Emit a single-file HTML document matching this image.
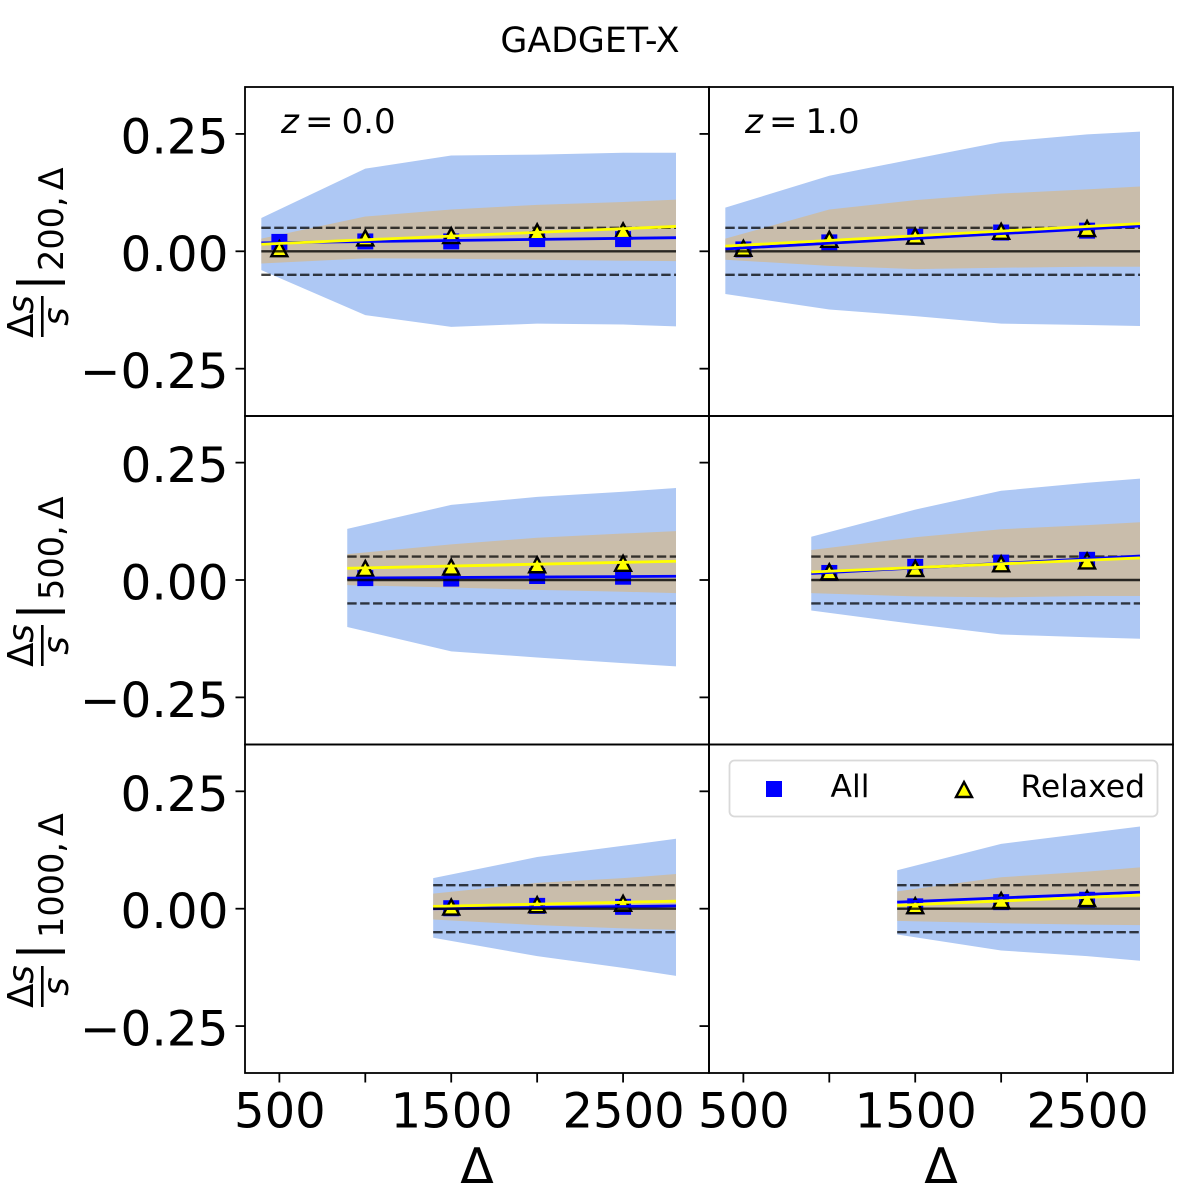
<!DOCTYPE html>
<html lang="en">
<head>
<meta charset="utf-8">
<title>GADGET-X</title>
<style>
html,body{margin:0;padding:0;background:#fff}
svg{display:block}
text{font-family:"DejaVu Sans","Liberation Sans",sans-serif;fill:#000}
</style>
</head>
<body>
<svg id="chart" xmlns="http://www.w3.org/2000/svg" width="1200" height="1197" viewBox="0 0 1200 1197">
<rect x="0" y="0" width="1200" height="1197" fill="#fff"/>
<text x="590" y="52" font-size="34.8" text-anchor="middle">GADGET-X</text>
<g id="panels"></g>
<g id="frames" fill="none" stroke="#000" stroke-width="1.8">
<rect x="245" y="87" width="464" height="329"/>
<rect x="709" y="87" width="464" height="329"/>
<rect x="245" y="416" width="464" height="328.5"/>
<rect x="709" y="416" width="464" height="328.5"/>
<rect x="245" y="744.5" width="464" height="328.5"/>
<rect x="709" y="744.5" width="464" height="328.5"/>
</g>
<g id="axes"></g>

<g font-size="34">
<text x="281" y="133" font-style="italic">z</text>
<text x="305" y="133">=</text>
<text x="341.5" y="133">0.0</text>
</g>
<g font-size="34">
<text x="745" y="133" font-style="italic">z</text>
<text x="769" y="133">=</text>
<text x="805.5" y="133">1.0</text>
</g>

<g>
<text transform="translate(33,316.5) rotate(-90)" font-size="35.5" text-anchor="middle">Δ<tspan font-style="italic">s</tspan></text>
<rect x="41" y="296" width="2.6" height="41"/>
<text transform="translate(68,316.5) rotate(-90)" font-size="35.5" font-style="italic" text-anchor="middle">s</text>
<rect x="16" y="280.5" width="49" height="4"/>
<text transform="translate(63,271) rotate(-90)" font-size="33.5">200,<tspan dx="6">Δ</tspan></text>
</g>
<g>
<text transform="translate(33,645.5) rotate(-90)" font-size="35.5" text-anchor="middle">Δ<tspan font-style="italic">s</tspan></text>
<rect x="41" y="625" width="2.6" height="41"/>
<text transform="translate(68,645.5) rotate(-90)" font-size="35.5" font-style="italic" text-anchor="middle">s</text>
<rect x="16" y="609.5" width="49" height="4"/>
<text transform="translate(63,600) rotate(-90)" font-size="33.5">500,<tspan dx="6">Δ</tspan></text>
</g>
<g>
<text transform="translate(33,986.5) rotate(-90)" font-size="35.5" text-anchor="middle">Δ<tspan font-style="italic">s</tspan></text>
<rect x="41" y="966" width="2.6" height="41"/>
<text transform="translate(68,986.5) rotate(-90)" font-size="35.5" font-style="italic" text-anchor="middle">s</text>
<rect x="16" y="949.5" width="49" height="4"/>
<text transform="translate(63,938) rotate(-90)" font-size="33.5">1000,<tspan dx="6">Δ</tspan></text>
</g>

<text x="477" y="1183" font-size="49" text-anchor="middle">Δ</text>
<text x="941" y="1183" font-size="49" text-anchor="middle">Δ</text>

<g>
<rect x="729.5" y="760.5" width="428" height="56" rx="5" ry="5" fill="#fff" fill-opacity="0.8" stroke="#d9d9d9" stroke-width="1.8"/>
<rect x="766" y="781" width="16" height="16" fill="#0000ff"/>
<text x="830.5" y="797" font-size="31.4">All</text>
<path d="M964 782 L972 797 L956 797 Z" fill="#ffff00" stroke="#000" stroke-width="2.4"/>
<text x="1020.5" y="797" font-size="31.4">Relaxed</text>
</g>
</svg>

<script>
// Axis tick data
const xTickValues = [500, 1000, 1500, 2000, 2500];
const xTickLabels = ["500", "", "1500", "", "2500"];
const yTickValues = [0.25, 0, -0.25];
const yTickLabels = ["0.25", "0.00", "\u22120.25"];
const toleranceValue = 0.05;

// Band sample positions (Delta) per reference overdensity
const bandX200 = [395, 1000, 1500, 2000, 2500, 2808];
const bandX500 = [895, 1500, 2000, 2500, 2808];
const bandX1000 = [1395, 2000, 2500, 2808];
const markerX200 = [500, 1000, 1500, 2000, 2500];
const markerX500 = [1000, 1500, 2000, 2500];
const markerX1000 = [1500, 2000, 2500];

// Delta_ref = 200, z = 0
const r200z0AllUpper = [0.071, 0.176, 0.204, 0.206, 0.210, 0.210];
const r200z0AllLower = [-0.040, -0.136, -0.161, -0.154, -0.156, -0.160];
const r200z0RelUpper = [0.027, 0.074, 0.089, 0.099, 0.105, 0.110];
const r200z0RelLower = [-0.026, -0.015, -0.016, -0.018, -0.020, -0.021];
const r200z0AllLine = [0.018, 0.029];
const r200z0RelLine = [0.015, 0.053];
const r200z0AllPts = [0.020, 0.021, 0.021, 0.026, 0.026];
const r200z0RelPts = [0.007, 0.030, 0.035, 0.043, 0.045];

// Delta_ref = 200, z = 1
const r200z1AllUpper = [0.093, 0.161, 0.197, 0.233, 0.249, 0.255];
const r200z1AllLower = [-0.091, -0.124, -0.138, -0.154, -0.157, -0.159];
const r200z1RelUpper = [0.027, 0.089, 0.109, 0.123, 0.132, 0.138];
const r200z1RelLower = [-0.018, -0.031, -0.038, -0.035, -0.033, -0.033];
const r200z1AllLine = [0.005, 0.054];
const r200z1RelLine = [0.011, 0.059];
const r200z1AllPts = [0.004, 0.019, 0.031, 0.040, 0.044];
const r200z1RelPts = [0.008, 0.027, 0.034, 0.044, 0.050];

// Delta_ref = 500, z = 0
const r500z0AllUpper = [0.109, 0.160, 0.177, 0.188, 0.196];
const r500z0AllLower = [-0.100, -0.152, -0.165, -0.177, -0.184];
const r500z0RelUpper = [0.055, 0.076, 0.090, 0.099, 0.104];
const r500z0RelLower = [-0.011, -0.016, -0.021, -0.025, -0.028];
const r500z0AllLine = [0.004, 0.008];
const r500z0RelLine = [0.025, 0.040];
const r500z0AllPts = [0.004, 0.003, 0.0085, 0.007];
const r500z0RelPts = [0.026, 0.029, 0.034, 0.037];

// Delta_ref = 500, z = 1
const r500z1AllUpper = [0.092, 0.150, 0.190, 0.207, 0.216];
const r500z1AllLower = [-0.065, -0.094, -0.116, -0.122, -0.125];
const r500z1RelUpper = [0.064, 0.091, 0.108, 0.117, 0.123];
const r500z1RelLower = [-0.028, -0.035, -0.037, -0.034, -0.034];
const r500z1AllLine = [0.014, 0.051];
const r500z1RelLine = [0.017, 0.047];
const r500z1AllPts = [0.015, 0.028, 0.037, 0.043];
const r500z1RelPts = [0.019, 0.026, 0.036, 0.042];

// Delta_ref = 1000, z = 0
const r1000z0AllUpper = [0.065, 0.110, 0.134, 0.149];
const r1000z0AllLower = [-0.062, -0.101, -0.126, -0.143];
const r1000z0RelUpper = [0.032, 0.055, 0.065, 0.074];
const r1000z0RelLower = [-0.023, -0.035, -0.042, -0.045];
const r1000z0AllLine = [0.000, 0.006];
const r1000z0RelLine = [0.005, 0.016];
const r1000z0AllPts = [0.001, 0.006, 0.004];
const r1000z0RelPts = [0.005, 0.010, 0.013];

// Delta_ref = 1000, z = 1
const r1000z1AllUpper = [0.082, 0.138, 0.161, 0.175];
const r1000z1AllLower = [-0.055, -0.089, -0.101, -0.111];
const r1000z1RelUpper = [0.037, 0.067, 0.079, 0.088];
const r1000z1RelLower = [-0.026, -0.031, -0.034, -0.035];
const r1000z1AllLine = [0.014, 0.035];
const r1000z1RelLine = [0.007, 0.029];
const r1000z1AllPts = [0.005, 0.014, 0.019];
const r1000z1RelPts = [0.008, 0.019, 0.023];

const panelList = [
  {id:"r200-z0", row:0, col:0, bx:bandX200, mx:markerX200, au:r200z0AllUpper, al:r200z0AllLower, ru:r200z0RelUpper, rl:r200z0RelLower, aLine:r200z0AllLine, rLine:r200z0RelLine, aPts:r200z0AllPts, rPts:r200z0RelPts},
  {id:"r200-z1", row:0, col:1, bx:bandX200, mx:markerX200, au:r200z1AllUpper, al:r200z1AllLower, ru:r200z1RelUpper, rl:r200z1RelLower, aLine:r200z1AllLine, rLine:r200z1RelLine, aPts:r200z1AllPts, rPts:r200z1RelPts},
  {id:"r500-z0", row:1, col:0, bx:bandX500, mx:markerX500, au:r500z0AllUpper, al:r500z0AllLower, ru:r500z0RelUpper, rl:r500z0RelLower, aLine:r500z0AllLine, rLine:r500z0RelLine, aPts:r500z0AllPts, rPts:r500z0RelPts},
  {id:"r500-z1", row:1, col:1, bx:bandX500, mx:markerX500, au:r500z1AllUpper, al:r500z1AllLower, ru:r500z1RelUpper, rl:r500z1RelLower, aLine:r500z1AllLine, rLine:r500z1RelLine, aPts:r500z1AllPts, rPts:r500z1RelPts},
  {id:"r1000-z0", row:2, col:0, bx:bandX1000, mx:markerX1000, au:r1000z0AllUpper, al:r1000z0AllLower, ru:r1000z0RelUpper, rl:r1000z0RelLower, aLine:r1000z0AllLine, rLine:r1000z0RelLine, aPts:r1000z0AllPts, rPts:r1000z0RelPts},
  {id:"r1000-z1", row:2, col:1, bx:bandX1000, mx:markerX1000, au:r1000z1AllUpper, al:r1000z1AllLower, ru:r1000z1RelUpper, rl:r1000z1RelLower, aLine:r1000z1AllLine, rLine:r1000z1RelLine, aPts:r1000z1AllPts, rPts:r1000z1RelPts}
];

const SVGNS = "http://www.w3.org/2000/svg";
function xScale(col, v) { return 245 + col * 464 + (v - 300) * (464 / 2700); }
function yScale(row, v) { return 251.3 + row * 328.7 - v * 469.5; }
function make(parent, tag, attrs) {
  const el = document.createElementNS(SVGNS, tag);
  for (const k in attrs) el.setAttribute(k, attrs[k]);
  parent.appendChild(el);
  return el;
}
function fmt(n) { return n.toFixed(2); }
function bandPath(p, upper, lower) {
  const top = p.bx.map((x, i) => fmt(xScale(p.col, x)) + " " + fmt(yScale(p.row, upper[i])));
  const bot = p.bx.map((x, i) => fmt(xScale(p.col, x)) + " " + fmt(yScale(p.row, lower[i]))).reverse();
  return "M" + top.concat(bot).join(" L") + " Z";
}

const panelsRoot = document.getElementById("panels");
const axesRoot = document.getElementById("axes");

panelList.forEach(function (p) {
  const g = make(panelsRoot, "g", {});
  
  

  const outer = make(g, "path", {d: bandPath(p, p.au, p.al), fill: "#aec8f4"});
  
  

  const inner = make(g, "path", {d: bandPath(p, p.ru, p.rl), fill: "#c9bdab"});
  
  

  const x0 = xScale(p.col, p.bx[0]);
  const x1 = xScale(p.col, p.bx[p.bx.length - 1]);

  [toleranceValue, -toleranceValue].forEach(function (v) {
    const dash = make(g, "line", {x1: x0, x2: x1, y1: yScale(p.row, v), y2: yScale(p.row, v), stroke: "#000", "stroke-opacity": 0.74, "stroke-width": 2.4, "stroke-dasharray": "9.4 3.5"});
    
    
  });

  p.mx.forEach(function (x, i) {
    const cx = xScale(p.col, x);
    const cy = yScale(p.row, p.aPts[i]);
    const sq = make(g, "rect", {x: cx - 8, y: cy - 8, width: 16, height: 16, fill: "#0000ff"});
    
    
  });

  p.mx.forEach(function (x, i) {
    const cx = xScale(p.col, x);
    const cy = yScale(p.row, p.rPts[i]) + 0.7;
    const d = "M" + fmt(cx) + " " + fmt(cy - 7.5) + " L" + fmt(cx + 8) + " " + fmt(cy + 7.5) + " L" + fmt(cx - 8) + " " + fmt(cy + 7.5) + " Z";
    const tri = make(g, "path", {d: d, fill: "#ffff00", stroke: "#000", "stroke-width": 2.4});
    
    
  });

  const allLine = make(g, "line", {x1: x0, x2: x1, y1: yScale(p.row, p.aLine[0]), y2: yScale(p.row, p.aLine[1]), stroke: "#0000ff", "stroke-width": 2.8});
  
  

  const relLine = make(g, "line", {x1: x0, x2: x1, y1: yScale(p.row, p.rLine[0]), y2: yScale(p.row, p.rLine[1]), stroke: "#ffff00", "stroke-width": 2.8});
  
  

  const zero = make(g, "line", {x1: x0, x2: x1, y1: yScale(p.row, 0), y2: yScale(p.row, 0), stroke: "#000", "stroke-opacity": 0.8, "stroke-width": 2.4});
  
  
});

[0, 1, 2].forEach(function (row) {
  [0, 1].forEach(function (col) {
    const xEdge = 245 + col * 464;
    yTickValues.forEach(function (v, i) {
      const y = yScale(row, v);
      const tick = make(axesRoot, "line", {x1: xEdge - 9.5, x2: xEdge, y1: y, y2: y, stroke: "#000", "stroke-width": 1.8});
      
      
      if (col === 0) {
        const label = make(axesRoot, "text", {x: 228.5, y: y + 19.5, "font-size": 48.5, "text-anchor": "end"});
        label.textContent = yTickLabels[i];
        
        
      }
    });
  });
});

[0, 1].forEach(function (col) {
  xTickValues.forEach(function (v, i) {
    const x = xScale(col, v);
    const tick = make(axesRoot, "line", {x1: x, x2: x, y1: 1073, y2: 1082.5, stroke: "#000", "stroke-width": 1.8});
    
    
    if (xTickLabels[i]) {
      const label = make(axesRoot, "text", {x: x + 0.5, y: 1127.5, "font-size": 48, "text-anchor": "middle"});
      label.textContent = xTickLabels[i];
      
      
    }
  });
});
</script>
</body>
</html>
